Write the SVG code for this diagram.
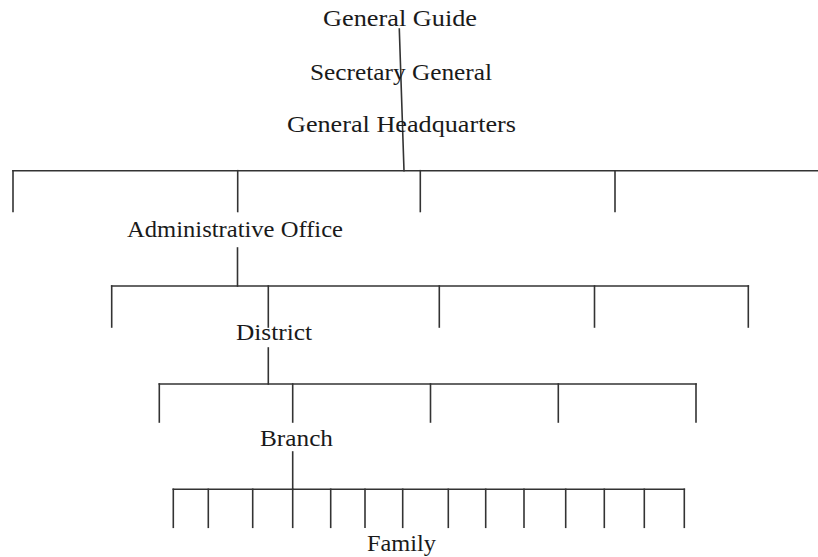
<svg xmlns="http://www.w3.org/2000/svg" width="818" height="557" viewBox="0 0 818 557">
<style>
text{font-family:"Liberation Serif","Times New Roman",serif;font-size:24px;fill:#1a1a1a}
.c line{stroke:#333;stroke-width:1.6;stroke-linecap:square}
</style>
<rect width="818" height="557" fill="#fff"/>
<g id="connectors" class="c">
<line x1="399.3" y1="29" x2="404" y2="170.7"/>
<line x1="13" y1="170.7" x2="818" y2="170.7"/>
<line x1="13" y1="170.7" x2="13" y2="211.5"/>
<line x1="237.7" y1="170.7" x2="237.7" y2="211.5"/>
<line x1="420.3" y1="170.7" x2="420.3" y2="211.5"/>
<line x1="615" y1="170.7" x2="615" y2="211.5"/>
<line x1="237.5" y1="248" x2="237.5" y2="286"/>
<line x1="111.7" y1="286" x2="748.3" y2="286"/>
<line x1="111.7" y1="286" x2="111.7" y2="327"/>
<line x1="268.3" y1="286" x2="268.3" y2="327"/>
<line x1="439.3" y1="286" x2="439.3" y2="327"/>
<line x1="594.5" y1="286" x2="594.5" y2="327"/>
<line x1="748.3" y1="286" x2="748.3" y2="327"/>
<line x1="268.3" y1="348" x2="268.3" y2="384"/>
<line x1="159.3" y1="384" x2="696" y2="384"/>
<line x1="159.3" y1="384" x2="159.3" y2="422"/>
<line x1="292.7" y1="384" x2="292.7" y2="422"/>
<line x1="430.5" y1="384" x2="430.5" y2="422"/>
<line x1="558.3" y1="384" x2="558.3" y2="422"/>
<line x1="696" y1="384" x2="696" y2="422"/>
<line x1="292.7" y1="452" x2="292.7" y2="489.3"/>
<line x1="173.3" y1="489.3" x2="684.3" y2="489.3"/>
<line x1="173.3" y1="489.3" x2="173.3" y2="527.3"/>
<line x1="208.3" y1="489.3" x2="208.3" y2="527.3"/>
<line x1="252.7" y1="489.3" x2="252.7" y2="527.3"/>
<line x1="292.7" y1="489.3" x2="292.7" y2="527.3"/>
<line x1="330.7" y1="489.3" x2="330.7" y2="527.3"/>
<line x1="365" y1="489.3" x2="365" y2="527.3"/>
<line x1="402.7" y1="489.3" x2="402.7" y2="527.3"/>
<line x1="448.3" y1="489.3" x2="448.3" y2="527.3"/>
<line x1="485.7" y1="489.3" x2="485.7" y2="527.3"/>
<line x1="524" y1="489.3" x2="524" y2="527.3"/>
<line x1="565.7" y1="489.3" x2="565.7" y2="527.3"/>
<line x1="604.3" y1="489.3" x2="604.3" y2="527.3"/>
<line x1="644.3" y1="489.3" x2="644.3" y2="527.3"/>
<line x1="684.3" y1="489.3" x2="684.3" y2="527.3"/>
</g>
<g id="general-guide"><text x="323" y="26" textLength="154" lengthAdjust="spacingAndGlyphs">General Guide</text></g>
<g id="secretary-general"><text x="310" y="80" textLength="182" lengthAdjust="spacingAndGlyphs">Secretary General</text></g>
<g id="general-headquarters"><text x="287" y="132" textLength="229" lengthAdjust="spacingAndGlyphs">General Headquarters</text></g>
<g id="administrative-office"><text x="127" y="237" textLength="216" lengthAdjust="spacingAndGlyphs">Administrative Office</text></g>
<g id="district"><text x="236" y="340" textLength="76" lengthAdjust="spacingAndGlyphs">District</text></g>
<g id="branch"><text x="260" y="446" textLength="73" lengthAdjust="spacingAndGlyphs">Branch</text></g>
<g id="family"><text x="367" y="551" textLength="69" lengthAdjust="spacingAndGlyphs">Family</text></g>
</svg>
